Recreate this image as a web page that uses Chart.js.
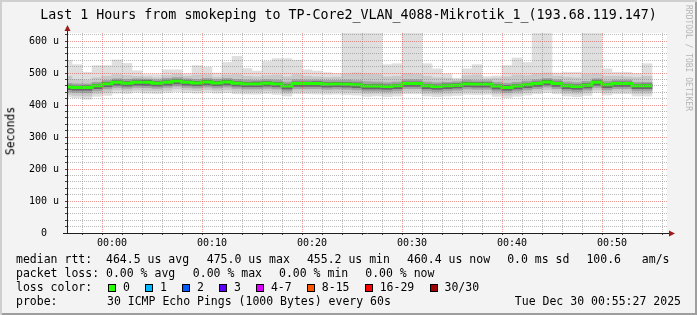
<!DOCTYPE html>
<html><head><meta charset="utf-8">
<script src="https://cdn.jsdelivr.net/npm/chart.js@4"></script>
<style>
html,body{margin:0;padding:0;background:#f3f3f3;}
#wrap{position:relative;width:697px;height:315px;background:#f3f3f3;box-shadow:inset 2px 2px 0 #cfcfcf, inset -2px -2px 0 #9e9e9e;font-family:'DejaVu Sans Mono',monospace;color:#000;overflow:hidden;}
canvas{position:absolute;left:0;top:0;}
.t{position:absolute;white-space:pre;line-height:1;font-size:11.5px;}
.sw{position:absolute;width:8px;height:8px;box-sizing:border-box;border:1px solid #000;}
</style></head>
<body><div id="wrap"><canvas id="c" width="697" height="315"></canvas></div>
<script>
const chartTitle = 'Last 1 Hours from smokeping to TP-Core2_VLAN_4088-Mikrotik_1_(193.68.119.147)';
const yAxisTitle = 'Seconds';
const timeLabels = ['23:56','23:57','23:58','23:59','00:00','00:01','00:02','00:03','00:04','00:05',
 '00:06','00:07','00:08','00:09','00:10','00:11','00:12','00:13','00:14','00:15',
 '00:16','00:17','00:18','00:19','00:20','00:21','00:22','00:23','00:24','00:25',
 '00:26','00:27','00:28','00:29','00:30','00:31','00:32','00:33','00:34','00:35',
 '00:36','00:37','00:38','00:39','00:40','00:41','00:42','00:43','00:44','00:45',
 '00:46','00:47','00:48','00:49','00:50','00:51','00:52','00:53','00:54'];
// round trip times in microseconds
const medianRtt = [457,455,455,460,466,471,468,471,471,468, 471,475,471,469,472,469,472,468,466,466,
 468,466,459,467,467,467,465,466,465,463, 459,459,458,460,467,467,460,458,460,462,
 466,465,465,459,455,459,463,467,472,467, 460,458,462,471,463,467,467,460,460];
const maxRtt = [540,526,502,523,523,541,530,507,495,495, 510,510,497,523,518,500,533,552,514,506,
 536,545,545,540,510,506,501,498,690,690, 690,690,526,529,690,690,529,513,497,484,
 513,526,489,491,523,547,533,690,690,500, 502,502,690,690,513,502,502,498,529];
const p90Rtt = [490,480,478,485,490,495,492,490,488,485, 492,496,490,494,495,487,494,495,490,488,
 492,494,488,495,490,488,486,487,497,500, 498,496,488,490,498,496,490,485,484,478,
 492,494,482,484,488,494,492,498,500,490, 487,485,495,497,490,490,488,486,490];
const p75Rtt = [468,466,466,471,477,482,480,482,481,479, 483,486,482,480,483,480,483,480,478,477,
 479,478,472,479,478,478,477,477,478,476, 473,472,470,472,479,479,472,470,471,473,
 478,476,476,471,468,471,475,479,483,479, 472,470,474,482,475,478,478,471,471];
const p60Rtt = [462,459,460,465,471,476,473,476,477,473, 476,480,476,474,477,474,477,473,471,472,
 473,471,465,472,472,473,470,471,470,469, 464,465,463,465,472,472,465,463,466,467,
 471,470,470,464,461,464,468,472,477,472, 465,463,467,476,468,472,472,465,466];
const p40Rtt = [448,446,446,451,457,462,459,462,461,459, 462,466,462,460,463,460,463,459,457,457,
 459,457,450,458,458,458,456,457,456,454, 450,450,449,451,458,458,451,449,451,453,
 457,456,456,450,446,450,454,458,463,458, 451,449,453,462,454,458,458,451,451];
const p25Rtt = [441,439,438,444,450,455,452,455,454,452, 455,459,455,453,456,453,456,452,450,450,
 452,450,443,451,451,451,449,450,449,447, 443,443,442,444,451,451,444,442,444,446,
 450,449,449,443,439,443,447,451,456,451, 444,442,446,455,447,451,451,444,444];
const p10Rtt = [433,430,428,436,440,447,444,447,445,444, 446,451,447,445,448,445,447,443,442,442,
 444,442,436,443,443,442,441,442,440,439, 435,436,434,436,443,443,436,434,436,438,
 441,440,441,435,431,435,439,443,447,443, 436,434,438,447,439,443,443,436,436];
const minRtt = [425,423,418,427,430,437,436,440,437,436, 439,442,439,437,440,437,439,435,434,434,
 436,433,428,435,435,434,433,434,432,431, 427,428,426,428,435,435,428,426,428,430,
 433,432,433,427,423,427,431,435,439,435, 428,426,430,439,431,435,435,428,428];
const xTickLabels = ['00:00','00:10','00:20','00:30','00:40','00:50'];
const yTickLabels = ['0  ','100 u','200 u','300 u','400 u','500 u','600 u'];
const legendRtt = ['median rtt:  464.5 us avg','475.0 us max','455.2 us min','460.4 us now','0.0 ms sd','100.6   am/s'];
const legendLoss = ['packet loss: 0.00 % avg','0.00 % max','0.00 % min','0.00 % now'];
const lossLabels = ['0','1','2','3','4-7','8-15','16-29','30/30'];
const lossColors = ['#26ff00','#00b8ff','#0059ff','#5e00ff','#dd00ff','#ff5500','#ff0000','#a10000'];
const probeText = '30 ICMP Echo Pings (1000 Bytes) every 60s';
const dateText = 'Tue Dec 30 00:55:27 2025';
const watermark = 'RRDTOOL / TOBI OETIKER';

// minutes relative to 00:00
const toMin = s => { const h = +s.slice(0,2), m = +s.slice(3); return h === 23 ? m - 60 : h*60 + m; };
const mins = timeLabels.map(toMin);

function band(lo, hi, color){
  return {type:'bar', grouped:false, clip:0, backgroundColor:color, borderWidth:0,
    barPercentage:1, categoryPercentage:1,
    data: mins.map((m,i)=>({x:m-0.5, y:[lo[i], hi[i]]}))};
}
const medianPts = [];
mins.forEach((m,i)=>{ medianPts.push({x:m-1, y:medianRtt[i]}); medianPts.push({x:m, y:medianRtt[i]}); });

const MONO = "'DejaVu Sans Mono', monospace";
const bgPlugin = {
  id:'bg',
  beforeDraw(c){ const a=c.chartArea, x=c.ctx; x.save(); x.fillStyle='#ffffff'; x.fillRect(a.left,a.top,a.right-a.left,a.bottom-a.top); x.restore(); },
  afterDraw(c){
    const a=c.chartArea, x=c.ctx; x.save();
    x.strokeStyle='#202020'; x.lineWidth=1;
    x.beginPath(); x.moveTo(a.left+0.5, a.top); x.lineTo(a.left+0.5, a.top-4); x.stroke();
    x.beginPath(); x.moveTo(a.right, a.bottom+0.5); x.lineTo(a.right+3, a.bottom+0.5); x.stroke();
    x.beginPath(); x.moveTo(a.left-4, a.bottom+0.5); x.lineTo(a.left, a.bottom+0.5); x.stroke();
    x.fillStyle='#9c1a1a';
    x.beginPath(); x.moveTo(a.left+0.5, a.top-8); x.lineTo(a.left-2.5, a.top-2); x.lineTo(a.left+3.5, a.top-2); x.closePath(); x.fill();
    x.beginPath(); x.moveTo(a.right+8, a.bottom+0.5); x.lineTo(a.right+2, a.bottom-2.5); x.lineTo(a.right+2, a.bottom+3.5); x.closePath(); x.fill();
    x.restore();
  }
};
const gridMinor = 'rgba(120,120,120,0.5)', gridMajor = 'rgba(225,70,70,0.55)';

new Chart(document.getElementById('c'), {
  data:{ datasets:[
    {type:'line', data:medianPts, borderColor:'#26ff00', borderWidth:3, pointRadius:0, tension:0, clip:0, borderJoinStyle:'miter', borderCapStyle:'butt'},
    band(p40Rtt, p60Rtt, '#686868'),
    band(p25Rtt, p75Rtt, '#a3a3a3'),
    band(p10Rtt, p90Rtt, '#c9c9c9'),
    band(minRtt, maxRtt, '#dfdfdf')
  ]},
  options:{
    responsive:false, animation:false, devicePixelRatio:1,
    layout:{padding:{left:0, top:33, right:30, bottom:0}},
    plugins:{legend:{display:false}, tooltip:{enabled:false}},
    scales:{
      x:{type:'linear', min:-4.5, max:55.5, offset:false,
        afterFit(s){ s.height = 82; },
        afterBuildTicks(s){ const t=[]; for(let v=-4; v<=54; v+=2) t.push({value:v}); s.ticks=t; },
        ticks:{autoSkip:false, maxRotation:0, padding:2, color:'#000', font:{family:MONO, size:10},
          callback:(v)=> (v>=0 && v%10===0) ? xTickLabels[v/10] : ''},
        grid:{z:1, color:(ctx)=> (ctx.tick && ctx.tick.value%10===0) ? gridMajor : gridMinor, lineWidth:1, drawTicks:true, tickLength:2, tickColor:'#404040'},
        border:{display:true, color:'#202020', width:1, dash:[1,1], z:2}
      },
      y:{type:'linear', min:0, max:625,
        afterFit(s){ s.width = 67; },
        afterBuildTicks(s){ const t=[]; for(let v=0; v<=620; v+=20) t.push({value:v}); s.ticks=t; },
        ticks:{autoSkip:false, padding:6, color:'#000', font:{family:MONO, size:10},
          callback:(v)=> v%100===0 ? yTickLabels[v/100] : ''},
        grid:{z:1, color:(ctx)=> (ctx.tick && ctx.tick.value%100===0) ? gridMajor : gridMinor, lineWidth:1, drawTicks:true, tickLength:2, tickColor:'#404040'},
        border:{display:true, color:'#202020', width:1, dash:[1,1], z:2}
      }
    }
  },
  plugins:[bgPlugin]
});

// HTML texts
const wrap = document.getElementById('wrap');
function txt(s, left, top, extra){ const d=document.createElement('div'); d.className='t'; d.textContent=s; d.style.left=left+'px'; d.style.top=top+'px'; if(extra) Object.assign(d.style, extra); wrap.appendChild(d); return d; }
txt(chartTitle, 0, 7.6, {width:'697px', textAlign:'center', fontSize:'13.3px'});
txt(yAxisTitle, 11, 131, {transform:'translate(-50%,-50%) rotate(-90deg)'});
txt(watermark, 684, 5, {writingMode:'vertical-rl', fontSize:'8px', color:'#b4b4b4'});
const CW = 6.97, GAP = 16.5;
let x = 16;
legendRtt.forEach(s=>{ txt(s, x, 254); x += s.length*CW + GAP; });
x = 16;
legendLoss.forEach(s=>{ txt(s, x, 268); x += s.length*CW + GAP; });
txt('loss color:', 16, 282);
x = 108;
lossLabels.forEach((s,i)=>{ const b=document.createElement('div'); b.className='sw'; b.style.left=x+'px'; b.style.top='284px'; b.style.background=lossColors[i]; wrap.appendChild(b); txt(s, x+15, 282); x += 15 + s.length*CW + 15; });
txt('probe:', 16, 296);
txt(probeText, 107, 296);
txt(dateText, 0, 296, {width:'681px', textAlign:'right'});
</script>
</body></html>
